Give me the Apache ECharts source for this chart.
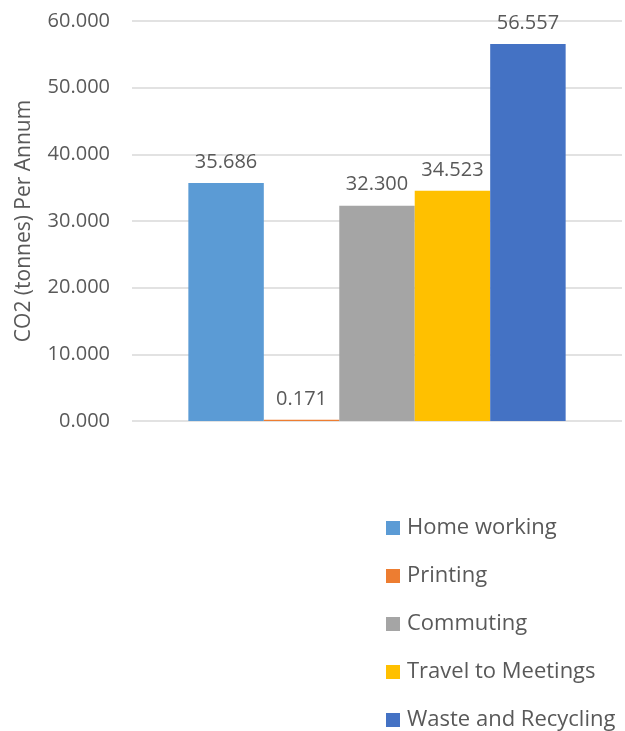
<!DOCTYPE html>
<html>
<head>
<meta charset="utf-8">
<script src="https://cdn.jsdelivr.net/npm/echarts@6/dist/echarts.min.js"></script>
<style>
  html, body { margin: 0; padding: 0; background: #fff; }
  #chart { width: 625px; height: 731px; }
</style>
</head>
<body>
<div id="chart"></div>
<script>
// data
var categories = ['Total'];
var seriesNames = ['Home working', 'Printing', 'Commuting', 'Travel to Meetings', 'Waste and Recycling'];
var seriesValues = [35.686, 0.171, 32.300, 34.523, 56.557];
var seriesColors = ['#5B9BD5', '#ED7D31', '#A5A5A5', '#FFC000', '#4472C4'];
var yTicks = { min: 0, max: 60, interval: 10 };

var font = 'Open Sans';
var chart = echarts.init(document.getElementById('chart'));

var series = seriesNames.map(function (name, i) {
  return {
    name: name,
    type: 'bar',
    data: [seriesValues[i]],
    barGap: '0%',
    barCategoryGap: '23%',
    itemStyle: { color: seriesColors[i] },
    label: {
      show: true,
      position: 'top',
      distance: 11,
      color: '#595959',
      fontFamily: font,
      fontSize: 20,
      formatter: function (p) { return p.value.toFixed(3); }
    }
  };
});

chart.setOption({
  animation: false,
  textStyle: { fontFamily: font },
  grid: { left: 132, right: 3, top: 21, bottom: 310 },
  legend: {
    orient: 'vertical',
    left: 386,
    top: 517,
    height: 214,
    padding: 0,
    itemWidth: 14,
    itemHeight: 14,
    itemGap: 26,
    icon: 'rect',
    textStyle: { color: '#595959', fontFamily: font, fontSize: 22, padding: [0, 0, 0, 2] },
    data: seriesNames
  },
  xAxis: {
    type: 'category',
    data: categories,
    axisLine: { show: false },
    axisTick: { show: false },
    axisLabel: { show: false }
  },
  yAxis: {
    type: 'value',
    min: yTicks.min,
    max: yTicks.max,
    interval: yTicks.interval,
    name: 'CO2 (tonnes) Per Annum',
    nameLocation: 'middle',
    nameGap: 97,
    nameTextStyle: { color: '#595959', fontFamily: font, fontSize: 21 },
    axisLine: { show: false },
    axisTick: { show: false },
    axisLabel: {
      color: '#595959',
      fontFamily: font,
      fontSize: 20,
      margin: 22,
      formatter: function (v) { return v.toFixed(3); }
    },
    splitLine: { lineStyle: { color: '#D9D9D9', width: 1.5 } }
  },
  series: series
});
</script>
</body>
</html>
